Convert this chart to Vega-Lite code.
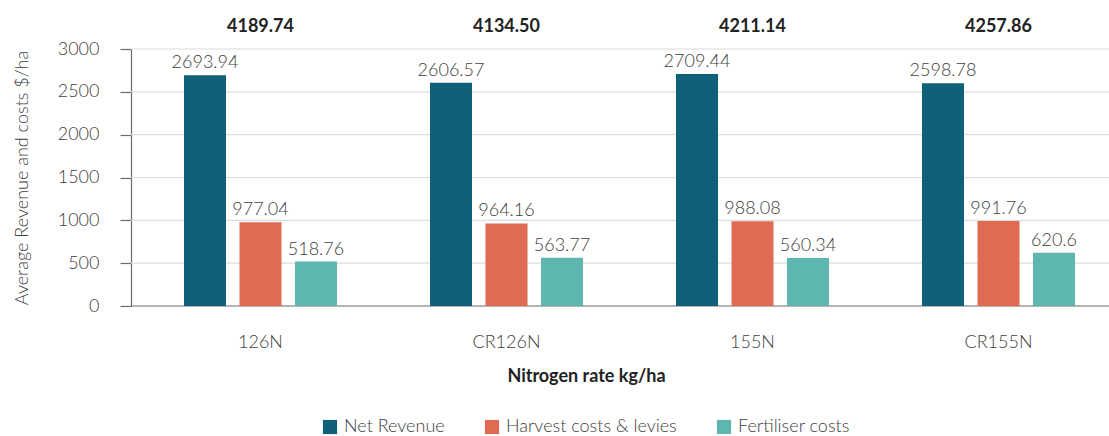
{
  "$schema": "https://vega.github.io/schema/vega-lite/v6.json",
  "width": 978,
  "height": 257,
  "autosize": {"type": "none"},
  "padding": {"left": 131, "top": 49, "right": 0, "bottom": 130},
  "config": {"view": {"stroke": null}, "font": "Lato"},
  "datasets": {
    "bars": [
      {"rate": "126N", "series": "Net Revenue", "value": 2693.94},
      {"rate": "126N", "series": "Harvest costs & levies", "value": 977.04},
      {"rate": "126N", "series": "Fertiliser costs", "value": 518.76},
      {"rate": "CR126N", "series": "Net Revenue", "value": 2606.57},
      {"rate": "CR126N", "series": "Harvest costs & levies", "value": 964.16},
      {"rate": "CR126N", "series": "Fertiliser costs", "value": 563.77},
      {"rate": "155N", "series": "Net Revenue", "value": 2709.44},
      {"rate": "155N", "series": "Harvest costs & levies", "value": 988.08},
      {"rate": "155N", "series": "Fertiliser costs", "value": 560.34},
      {"rate": "CR155N", "series": "Net Revenue", "value": 2598.78},
      {"rate": "CR155N", "series": "Harvest costs & levies", "value": 991.76},
      {"rate": "CR155N", "series": "Fertiliser costs", "value": 620.6}
    ],
    "totals": [
      {"rate": "126N", "total": "4189.74"},
      {"rate": "CR126N", "total": "4134.50"},
      {"rate": "155N", "total": "4211.14"},
      {"rate": "CR155N", "total": "4257.86"}
    ],
    "grid": [
      {"v": 0}, {"v": 500}, {"v": 1000}, {"v": 1500}, {"v": 2000}, {"v": 2500}, {"v": 3000}
    ]
  },
  "layer": [
    {
      "data": {"name": "grid"},
      "mark": {"type": "rule", "strokeWidth": 1.2},
      "encoding": {
        "y": {"field": "v", "type": "quantitative", "scale": {"domain": [0, 3000], "nice": false}},
        "color": {"condition": {"test": "datum.v === 0", "value": "#6b6b6b"}, "value": "#dcdcdc"},
        "strokeWidth": {"condition": {"test": "datum.v === 0", "value": 1.6}, "value": 1.2}
      }
    },
    {
      "data": {"name": "bars"},
      "mark": {"type": "bar"},
      "encoding": {
        "x": {
          "field": "rate",
          "type": "nominal",
          "sort": ["126N", "CR126N", "155N", "CR155N"],
          "scale": {"range": [53, 944], "paddingInner": 0.378, "paddingOuter": 0},
          "axis": {
            "title": "Nitrogen rate kg/ha",
            "labelAngle": 0,
            "ticks": false,
            "domain": false,
            "labelFontSize": 18,
            "labelFontWeight": 300,
            "labelColor": "#404040",
            "labelPadding": 27,
            "titleFontSize": 18,
            "titleFontWeight": "bold",
            "titleColor": "#222222",
            "titlePadding": 16,
            "titleX": 455
          }
        },
        "xOffset": {
          "field": "series",
          "type": "nominal",
          "sort": ["Net Revenue", "Harvest costs & levies", "Fertiliser costs"],
          "scale": {"paddingInner": 0.243, "paddingOuter": 0}
        },
        "y": {
          "field": "value",
          "type": "quantitative",
          "scale": {"domain": [0, 3000], "nice": false},
          "axis": {
            "title": "Average Revenue and costs $/ha",
            "values": [0, 500, 1000, 1500, 2000, 2500, 3000],
            "format": "d",
            "grid": false,
            "domain": true,
            "domainColor": "#6b6b6b",
            "domainWidth": 1.2,
            "tickSize": 11,
            "tickColor": "#6b6b6b",
            "tickWidth": 1.2,
            "labelPadding": 21,
            "labelFontSize": 18,
            "labelFontWeight": 300,
            "labelColor": "#404040",
            "titleFontSize": 18,
            "titleFontWeight": 300,
            "titleColor": "#404040",
            "titlePadding": 26
          }
        },
        "color": {
          "field": "series",
          "type": "nominal",
          "sort": ["Net Revenue", "Harvest costs & levies", "Fertiliser costs"],
          "scale": {
            "domain": ["Net Revenue", "Harvest costs & levies", "Fertiliser costs"],
            "range": ["#0f6079", "#e06b53", "#5db7ae"]
          },
          "legend": {
            "title": null,
            "orient": "none",
            "legendX": 190,
            "legendY": 369,
            "direction": "horizontal",
            "symbolType": "square",
            "symbolSize": 200,
            "symbolStrokeWidth": 0,
            "labelFontSize": 18,
            "labelFontWeight": 300,
            "labelColor": "#404040",
            "labelLimit": 400,
            "labelOffset": 5,
            "columnPadding": 38
          }
        }
      }
    },
    {
      "data": {"name": "bars"},
      "mark": {"type": "text", "baseline": "alphabetic", "dy": -7, "fontSize": 18, "fontWeight": 300, "color": "#404040"},
      "encoding": {
        "x": {"field": "rate", "type": "nominal", "sort": ["126N", "CR126N", "155N", "CR155N"]},
        "xOffset": {
          "field": "series",
          "type": "nominal",
          "sort": ["Net Revenue", "Harvest costs & levies", "Fertiliser costs"],
          "scale": {"paddingInner": 0.243, "paddingOuter": 0}
        },
        "y": {"field": "value", "type": "quantitative"},
        "text": {"field": "value", "type": "nominal"}
      }
    },
    {
      "data": {"name": "totals"},
      "mark": {"type": "text", "baseline": "alphabetic", "dy": -17, "fontSize": 18, "fontWeight": "bold", "color": "#222222"},
      "encoding": {
        "x": {"field": "rate", "type": "nominal", "sort": ["126N", "CR126N", "155N", "CR155N"]},
        "y": {"datum": 3000},
        "text": {"field": "total", "type": "nominal"}
      }
    }
  ]
}
